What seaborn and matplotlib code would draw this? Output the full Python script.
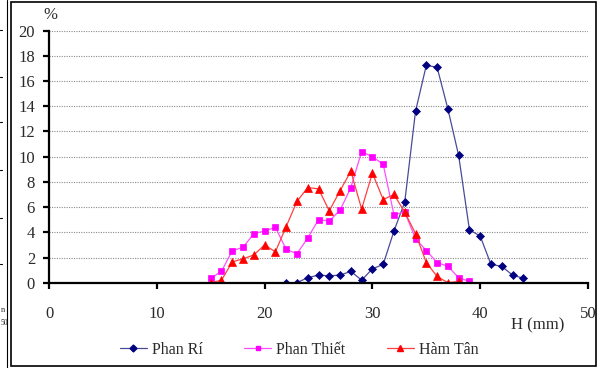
import matplotlib
matplotlib.use("Agg")
import matplotlib.pyplot as plt
from matplotlib.lines import Line2D
from matplotlib.patches import Rectangle
import seaborn as sns
import pandas as pd

# ---- data ----
phan_ri_x = [22, 23, 24, 25, 26, 27, 28, 29, 30, 31, 32, 33, 34, 35, 36, 37, 38, 39, 40, 41, 42, 43, 44]
phan_ri_y = [0, 0, 0.4, 0.6, 0.55, 0.6, 0.9, 0.2, 1.1, 1.45, 4.1, 6.4, 13.6, 17.25, 17.1, 13.8, 10.1, 4.2, 3.7, 1.45, 1.3, 0.6, 0.35]

phan_thiet_x = [15, 16, 17, 18, 19, 20, 21, 22, 23, 24, 25, 26, 27, 28, 29, 30, 31, 32, 33, 34, 35, 36, 37, 38, 39]
phan_thiet_y = [0.35, 0.9, 2.55, 2.8, 3.9, 4.1, 4.4, 2.65, 2.3, 3.55, 5.0, 4.9, 5.75, 7.55, 10.4, 10.0, 9.4, 5.4, 5.6, 3.5, 2.55, 1.6, 1.3, 0.4, 0.1]

ham_tan_x = [15, 16, 17, 18, 19, 20, 21, 22, 23, 24, 25, 26, 27, 28, 29, 30, 31, 32, 33, 34, 35, 36, 37, 38]
ham_tan_y = [0, 0.2, 1.65, 1.9, 2.2, 3.0, 2.45, 4.45, 6.45, 7.55, 7.45, 5.7, 7.3, 8.85, 5.85, 8.7, 6.6, 7.0, 5.6, 3.9, 1.6, 0.5, 0, 0.1]

series_names = ["Phan Rí", "Phan Thiết", "Hàm Tân"]
x_ticks = [0, 10, 20, 30, 40, 50]
y_ticks = [0, 2, 4, 6, 8, 10, 12, 14, 16, 18, 20]
x_label = "H (mm)"
y_label = "%"

# ---- styling ----
sns.set_theme(style="white")
plt.rcParams["font.family"] = ["Liberation Serif", "DejaVu Serif"]

fig = plt.figure(figsize=(6.02, 3.68), dpi=100)
W, H = 602, 368
ax = fig.add_axes([49 / W, 1 - 282.7 / H, (588 - 49) / W, (282.7 - 30.7) / H])

styles = [
    dict(line="#4a4a9a", face="#000080", marker="D", ms=4.3),
    dict(line="#ff4dff", face="#ff00ff", marker="s", ms=4.3),
    dict(line="#ff4040", face="#ff0000", marker="^", ms=5.2),
]
datasets = [(phan_ri_x, phan_ri_y), (phan_thiet_x, phan_thiet_y), (ham_tan_x, ham_tan_y)]

handles = []
for name, (xs, ys), st in zip(series_names, datasets, styles):
    df = pd.DataFrame({"x": xs, "y": ys})
    sns.lineplot(data=df, x="x", y="y", ax=ax, color=st["line"], linewidth=0.9,
                 marker=st["marker"], markersize=st["ms"],
                 markerfacecolor=st["face"], markeredgecolor=st["face"],
                 markeredgewidth=0.5, zorder=3)
    handles.append(Line2D([], [], color=st["line"], linewidth=0.9, marker=st["marker"],
                          markersize=st["ms"] - 0.8, markerfacecolor=st["face"],
                          markeredgecolor=st["face"], label=name))

ax.set_xlim(0, 50)
ax.set_ylim(0, 20)
ax.set_xticks(x_ticks)
ax.set_yticks(y_ticks)
ax.set_xlabel("")
ax.set_ylabel("")

for yv in y_ticks[1:]:
    ax.axhline(yv, color="#8a8a8a", linewidth=0.8, linestyle=(0, (1, 1.2)), zorder=1)

for s in ["top", "right"]:
    ax.spines[s].set_visible(False)
for s in ["left", "bottom"]:
    ax.spines[s].set_color("black")
    ax.spines[s].set_linewidth(1.6)
    ax.spines[s].set_zorder(4)

ax.tick_params(axis="x", direction="out", length=4, width=1.6, color="black",
               pad=13, labelsize=12, labelcolor="#2a2a2a", bottom=True)
ax.tick_params(axis="y", direction="out", length=4, width=1.6, color="black",
               pad=6, labelsize=12, labelcolor="#2a2a2a", left=True)

ax.text(0.003, 1.062, y_label, transform=ax.transAxes, ha="center", va="center",
        fontsize=12, color="#2a2a2a")
ax.text(0.907, -0.168, x_label, transform=ax.transAxes, ha="center", va="center",
        fontsize=12, color="#2a2a2a")

fig.legend(handles=handles, loc="center", bbox_to_anchor=(299 / W, 1 - 350 / H),
           ncol=3, frameon=False, fontsize=11.5, handlelength=1.7,
           handletextpad=0.3, columnspacing=2.6, borderpad=0)
for t in fig.legends[0].get_texts():
    t.set_color("#2a2a2a")

# outer frame of this panel
fig.add_artist(Rectangle((11 / W, 1 - 366 / H), (596 - 11) / W, (366 - 2) / H,
                         transform=fig.transFigure, fill=False, edgecolor="black",
                         linewidth=1.2))
# edge of the neighbouring panel (cut off on the left)
fig.add_artist(Line2D([7 / W, 7 / W], [0, 1], transform=fig.transFigure,
                      color="black", linewidth=0.8))
for py in [30, 77, 122, 170, 218, 264]:
    fig.add_artist(Line2D([0, 2 / W], [1 - py / H, 1 - py / H], transform=fig.transFigure,
                          color="black", linewidth=0.8))
fig.text(0.5 / W, 1 - 310 / H, "n", ha="left", va="center", fontsize=6, color="#2a2a2a")
fig.text(0.5 / W, 1 - 323 / H, "50", ha="left", va="center", fontsize=5.5, color="#2a2a2a")

fig.savefig("out.png", dpi=100)
